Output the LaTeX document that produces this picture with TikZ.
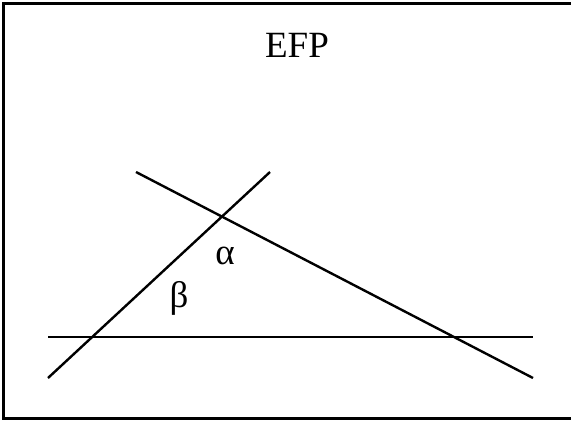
\documentclass[tikz,border=0pt]{standalone}
\usepackage{fontspec}
\setmainfont{Liberation Serif}
\usepackage{tikz}
\usetikzlibrary{positioning,calc}

\begin{document}
\begin{tikzpicture}[
  x=1pt,y=-1pt,
  frame/.style={draw,line width=3pt},
  ray/.style={draw,line width=2.4pt},
  lbl/.style={inner sep=0pt,font=\fontsize{37}{40}\selectfont}
]
\useasboundingbox (0,0) rectangle (571,421);
\draw[frame] (3.5,3.5) rectangle (580,418.5);
\node[lbl] (title) at (297,45) {EFP};
% the three lines
\coordinate (hleft) at (48,337);
\coordinate (hright) at (533,337);
\coordinate (rlow) at (48,378);
\coordinate (rhigh) at (270,172);
\coordinate (fhigh) at (136,172);
\coordinate (flow) at (533,378);
\draw[ray] (hleft) -- (hright);
\draw[ray] (rlow) -- (rhigh);
\draw[ray] (fhigh) -- (flow);
\node[lbl] (alpha) at (225,256) {α};
\node[lbl] (beta) at (179,298) {β};
\end{tikzpicture}
\end{document}
